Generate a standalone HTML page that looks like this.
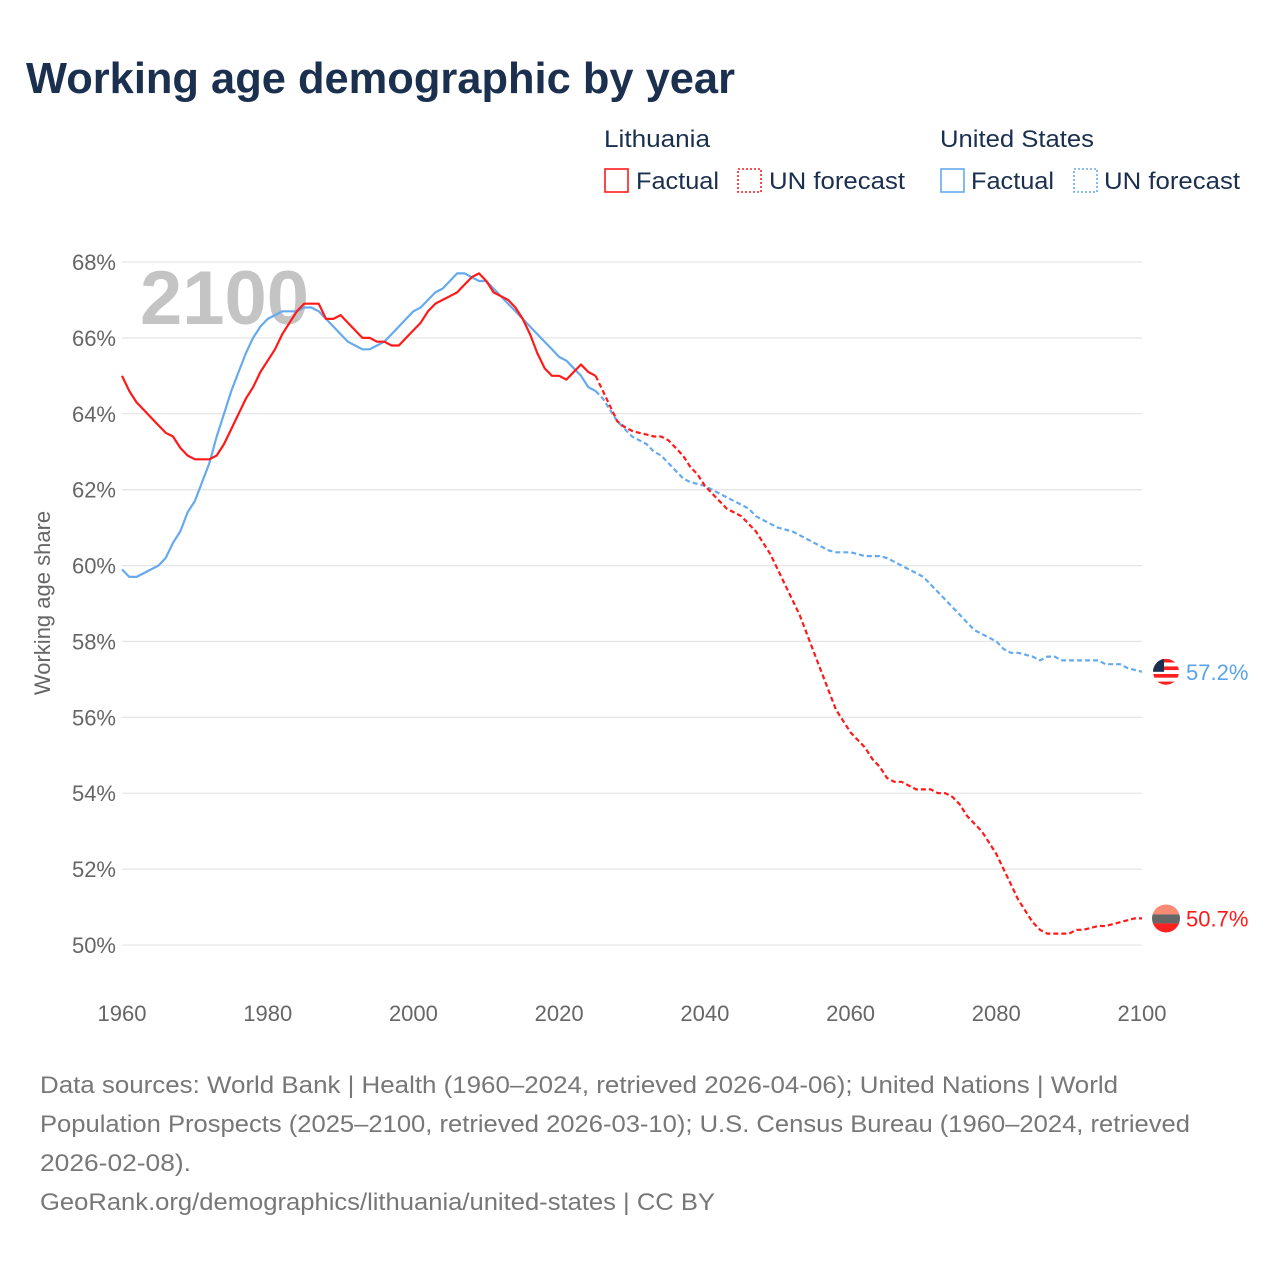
<!DOCTYPE html>
<html><head><meta charset="utf-8"><style>
body{margin:0;background:#fff;font-family:"Liberation Sans",sans-serif}
#root{position:relative;width:1280px;height:1280px;overflow:hidden}
svg text{font-family:"Liberation Sans",sans-serif}
</style></head><body><div id="root">
<svg id="chart" width="1280" height="1280"></svg>
</div>
<script>
const years=[];for(let y=1960;y<=2100;y++)years.push(y);
const ltFactual=[65.0,64.6,64.3,64.1,63.9,63.7,63.5,63.4,63.1,62.9,62.8,62.8,62.8,62.9,63.2,63.6,64.0,64.4,64.7,65.1,65.4,65.7,66.1,66.4,66.7,66.9,66.9,66.9,66.5,66.5,66.6,66.4,66.2,66.0,66.0,65.9,65.9,65.8,65.8,66.0,66.2,66.4,66.7,66.9,67.0,67.1,67.2,67.4,67.6,67.7,67.5,67.2,67.1,67.0,66.8,66.5,66.1,65.6,65.2,65.0,65.0,64.9,65.1,65.3,65.1,65.0];
const ltForecast=[64.6,64.2,63.8,63.65,63.55,63.5,63.45,63.4,63.4,63.3,63.1,62.9,62.6,62.4,62.1,61.9,61.7,61.5,61.4,61.3,61.1,60.9,60.6,60.3,59.9,59.5,59.1,58.7,58.2,57.7,57.2,56.7,56.2,55.9,55.6,55.4,55.2,54.9,54.7,54.4,54.3,54.3,54.2,54.1,54.1,54.1,54.0,54.0,53.9,53.7,53.4,53.2,53.0,52.7,52.4,52.0,51.6,51.2,50.9,50.6,50.4,50.3,50.3,50.3,50.3,50.4,50.4,50.45,50.5,50.5,50.55,50.6,50.65,50.7,50.7];
const usFactual=[59.9,59.7,59.7,59.8,59.9,60.0,60.2,60.6,60.9,61.4,61.7,62.2,62.7,63.4,64.0,64.6,65.1,65.6,66.0,66.3,66.5,66.6,66.7,66.7,66.7,66.8,66.8,66.7,66.5,66.3,66.1,65.9,65.8,65.7,65.7,65.8,65.9,66.1,66.3,66.5,66.7,66.8,67.0,67.2,67.3,67.5,67.7,67.7,67.6,67.5,67.5,67.3,67.1,66.9,66.7,66.5,66.3,66.1,65.9,65.7,65.5,65.4,65.2,65.0,64.7,64.6];
const usForecast=[64.4,64.1,63.8,63.6,63.4,63.3,63.2,63.0,62.9,62.7,62.5,62.3,62.2,62.15,62.1,62.0,61.9,61.8,61.7,61.6,61.5,61.3,61.2,61.1,61.0,60.95,60.9,60.8,60.7,60.6,60.5,60.4,60.35,60.35,60.35,60.3,60.25,60.25,60.25,60.2,60.1,60.0,59.9,59.8,59.7,59.5,59.3,59.1,58.9,58.7,58.5,58.3,58.2,58.1,58.0,57.8,57.7,57.7,57.65,57.6,57.5,57.6,57.6,57.5,57.5,57.5,57.5,57.5,57.5,57.4,57.4,57.4,57.3,57.25,57.2];
const yTicks=[50,52,54,56,58,60,62,64,66,68];
const xTicks=[1960,1980,2000,2020,2040,2060,2080,2100];
const NS="http://www.w3.org/2000/svg";
const svg=document.getElementById('chart');
const X=y=>122+(y-1960)*(1020/140);
const Y=v=>262+(68-v)*(683/18);
function el(t,a,p){const e=document.createElementNS(NS,t);for(const k in a)e.setAttribute(k,a[k]);(p||svg).appendChild(e);return e;}
function txt(s,a){const e=el('text',a);e.textContent=s;return e;}
let t=txt('Working age demographic by year',{x:26,y:93,'font-size':44,'font-weight':'bold',fill:'#1b2f4e',textLength:709,lengthAdjust:'spacingAndGlyphs'});

const lg=el('g',{});
function lgText(s,x,y,w){const e=el('text',{x:x,y:y,'font-size':24,fill:'#1b2f4e',textLength:w,lengthAdjust:'spacingAndGlyphs'},lg);e.textContent=s;return e;}
lgText('Lithuania',604,147,106);lgText('United States',940,147,154);
function box(x,c,dash,name){const r=el('rect',{x:x,y:169,width:23,height:23,fill:'none',stroke:c,'stroke-width':1.6},lg);if(dash)r.setAttribute('stroke-dasharray','2 2');}
box(605,'#ff1a1a',false,'legend-lt-factual');lgText('Factual',636,189,83);
box(738,'#ff1a1a',true,'legend-lt-forecast');lgText('UN forecast',769,189,136);
box(941,'#66aaee',false,'legend-us-factual');lgText('Factual',971,189,83);
box(1074,'#66aaee',true,'legend-us-forecast');lgText('UN forecast',1104,189,136);
yTicks.forEach(v=>{const l=el('line',{x1:122,x2:1142,y1:Y(v),y2:Y(v),stroke:'#e6e6e6','stroke-width':1.3});
const tt=txt(v+'%',{x:116,y:Y(v)+8,'font-size':22,fill:'#666','text-anchor':'end'});});
xTicks.forEach(v=>{const tt=txt(v,{x:X(v),y:1021,'font-size':22,fill:'#666','text-anchor':'middle'});});
t=txt('Working age share',{transform:'translate(50,603) rotate(-90)','font-size':22,fill:'#666','text-anchor':'middle'});

t=txt('2100',{x:140,y:324,'font-size':76,'font-weight':'bold',fill:'#c4c4c4'});

function line(vals,start,c,dash,name){let d='';vals.forEach((v,i)=>{d+=(i?'L':'M')+X(start+i).toFixed(1)+','+Y(v).toFixed(1);});
const p=el('path',{d:d,fill:'none',stroke:c,'stroke-width':2.2,'stroke-linejoin':'round'});if(dash)p.setAttribute('stroke-dasharray','5 3');}
line(usFactual,1960,'#66aaee',false,'us-factual-line');
line([usFactual[usFactual.length-1]].concat(usForecast),2025,'#66aaee',true,'us-forecast-line');
line(ltFactual,1960,'#ff1a1a',false,'lt-factual-line');
line([ltFactual[ltFactual.length-1]].concat(ltForecast),2025,'#ff1a1a',true,'lt-forecast-line');
const usEnd=usForecast[usForecast.length-1], ltEnd=ltForecast[ltForecast.length-1];
const fu=el('g',{});
const cy=Y(usEnd);
const cpu=el('clipPath',{id:'cu'},fu);el('circle',{cx:1166,cy:cy,r:13},cpu);
const gu=el('g',{'clip-path':'url(#cu)'},fu);
for(let i=0;i<7;i++)el('rect',{x:1150,y:cy-13+i*3.8,width:32,height:3.8,fill:i%2?'#fff':'#ff2020'},gu);
el('rect',{x:1150,y:cy-13,width:14,height:13,fill:'#1b2f4e'},gu);
t=txt(usEnd.toFixed(1)+'%',{x:1186,y:cy+8,'font-size':22,fill:'#5aa4ea'});
const fl=el('g',{});
const cy2=Y(ltEnd);
const cp=el('clipPath',{id:'cl'},fl);el('circle',{cx:1166,cy:cy2,r:14},cp);
const gl=el('g',{'clip-path':'url(#cl)'},fl);
el('rect',{x:1150,y:cy2-14,width:32,height:10,fill:'#f98a73'},gl);
el('rect',{x:1150,y:cy2-4,width:32,height:9,fill:'#666'},gl);
el('rect',{x:1150,y:cy2+5,width:32,height:10,fill:'#ff2020'},gl);
t=txt(ltEnd.toFixed(1)+'%',{x:1186,y:cy2+8,'font-size':22,fill:'#ff1a1a'});
const fg=el('g',{});
const foot=['Data sources: World Bank | Health (1960–2024, retrieved 2026-04-06); United Nations | World','Population Prospects (2025–2100, retrieved 2026-03-10); U.S. Census Bureau (1960–2024, retrieved','2026-02-08).','GeoRank.org/demographics/lithuania/united-states | CC BY'];
const footW=[1078,1150,151,675];
foot.forEach((s,i)=>{const e=el('text',{x:40,y:1093+i*39,'font-size':24,fill:'#777',textLength:footW[i],lengthAdjust:'spacingAndGlyphs'},fg);e.textContent=s;});
</script></body></html>
